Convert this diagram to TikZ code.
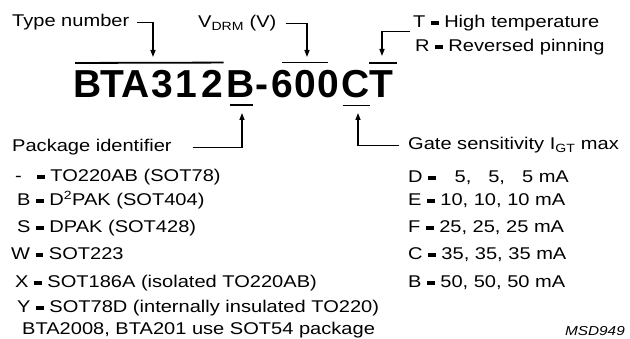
\documentclass[tikz,border=0pt]{standalone}
\usepackage{fontspec}
\setmainfont{Liberation Sans}
\newfontfamily\labfont[FakeStretch=1.18]{Liberation Sans}
\usetikzlibrary{arrows.meta}
\newcommand\mybar{\rule[0.2em]{0.45em}{0.22em}}
\begin{document}
\begin{tikzpicture}[x=1pt,y=-1pt,
  lab/.style={font=\labfont\fontsize{17}{20}\selectfont, inner sep=0pt, anchor=base west},
  big/.style={font=\fontsize{39}{40}\selectfont\bfseries, inner sep=0pt, anchor=base},
  arr/.style={line width=1.3pt, -{Triangle[length=7pt,width=5pt]}},
  barline/.style={line width=1.8pt}]
\useasboundingbox (0,0) rectangle (630,339);
% big type code, one node per character
\node[big] (c1) at (87.5,98) {B};
\node[big] (c2) at (112.5,98) {T};
\node[big] (c3) at (135.5,98) {A};
\node[big] (c4) at (162,98) {3};
\node[big] (c5) at (186,98) {1};
\node[big] (c6) at (212.5,98) {2};
\node[big] (c7) at (241,98) {B};
\node[big] (c8) at (262,98) {-};
\node[big] (c9) at (282,98) {6};
\node[big] (c10) at (305,98) {0};
\node[big] (c11) at (328,98) {0};
\node[big] (c12) at (355.5,98) {C};
\node[big] (c13) at (381.5,98) {T};
% over/underlines
\draw[barline] ([xshift=2pt,yshift=8pt]c1.north west) -- ([yshift=8pt]c6.north east);
\draw[barline] ([yshift=8pt]c9.north) -- ([yshift=8pt]c11.north);
\draw[barline] ([xshift=0pt,yshift=8pt]c13.north west) -- ([xshift=3pt,yshift=8pt]c13.north east);
\draw[barline] ([xshift=3pt,yshift=-7pt]c7.south west) -- ([xshift=-2pt,yshift=-7pt]c7.south east);
\draw[barline] ([xshift=1.5pt,yshift=-7pt]c12.south west) -- ([yshift=-7pt]c12.south east);
% arrow targets
\coordinate (a1) at (153,57);
\coordinate (a2) at (307,57);
\coordinate (a3) at (382,56);
\coordinate (a4) at (242,113);
\coordinate (a5) at (358,113);
% labels
\node[lab] (tn) at (12,27) {Type number};
\node[lab] (vd) at (198,28) {V\textsubscript{DRM} (V)};
\node[lab] (tt) at (413,28) {T \mybar\ High temperature};
\node[lab] (rr) at (415,52) {R \mybar\ Reversed pinning};
\node[lab] (pk) at (12,152) {Package identifier};
\node[lab] (gs) at (408,150) {Gate sensitivity I\textsubscript{GT} max};
\draw[arr] ([xshift=8pt]tn.east) -| (a1);
\draw[arr] ([xshift=9pt]vd.east) -| (a2);
\draw[arr] ([xshift=-3pt]tt.south west) -| (a3);
\draw[arr] ([xshift=21pt]pk.east) -| (a4);
\draw[arr] ([xshift=-9pt]gs.west) -| (a5);
% left list
\node[lab] (l1) at (15,182) {-\hspace{0.9em}\mybar\ TO220AB (SOT78)};
\node[lab] (l2) at (17,206) {B \mybar\ D\textsuperscript{2}PAK (SOT404)};
\node[lab] (l3) at (17,233) {S \mybar\ DPAK (SOT428)};
\node[lab] (l4) at (11,260) {W \mybar\ SOT223};
\node[lab] (l5) at (15,288) {X \mybar\ SOT186A (isolated TO220AB)};
\node[lab] (l6) at (17,313) {Y \mybar\ SOT78D (internally insulated TO220)};
\node[lab] (l7) at (22,335) {BTA2008, BTA201 use SOT54 package};
% right list
\node[lab] (g1) at (408,183) {D \mybar\hspace{1.1em}5,\hspace{1.0em}5,\hspace{1.0em}5 mA};
\node[lab] (g2) at (408,206) {E \mybar\ 10, 10, 10 mA};
\node[lab] (g3) at (408,233) {F \mybar\ 25, 25, 25 mA};
\node[lab] (g4) at (408,260) {C \mybar\ 35, 35, 35 mA};
\node[lab] (g5) at (408,288) {B \mybar\ 50, 50, 50 mA};
\node[inner sep=0pt, anchor=base east, font=\labfont\fontsize{13}{14}\selectfont\itshape] (ms) at (625,336) {MSD949};
\end{tikzpicture}
\end{document}
